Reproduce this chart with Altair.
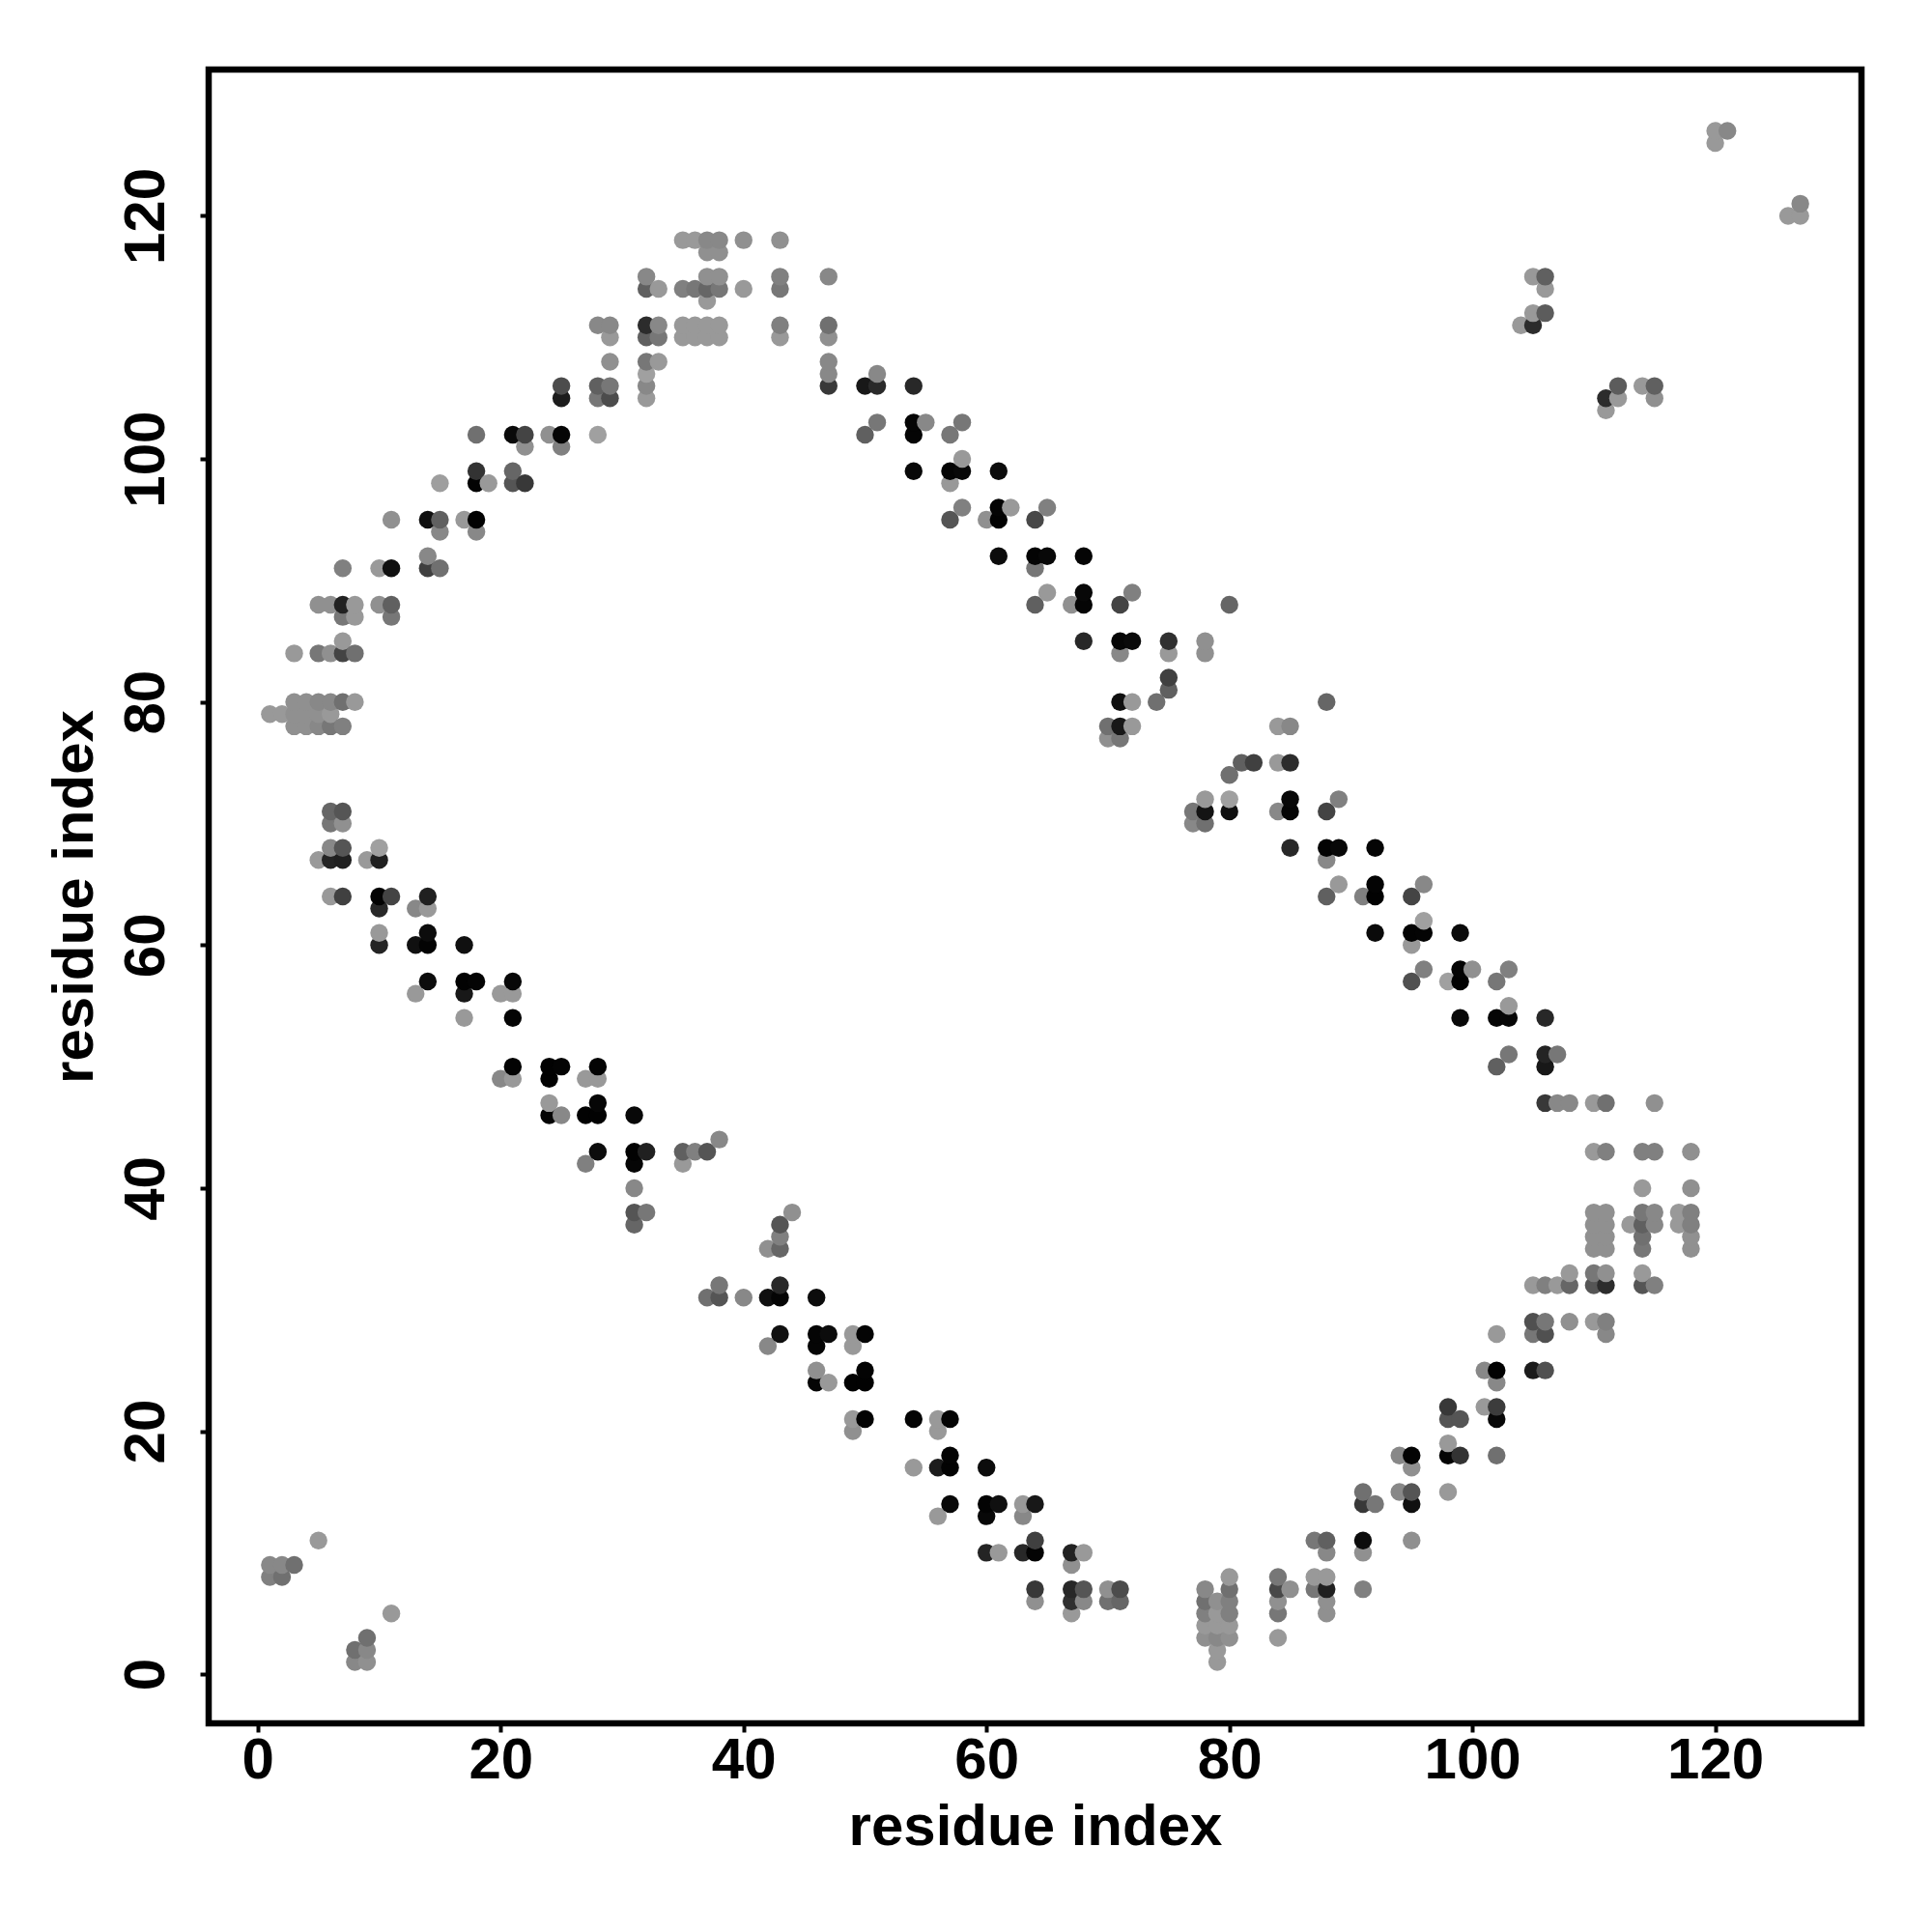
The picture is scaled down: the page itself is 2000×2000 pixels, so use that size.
import altair as alt
import pandas as pd

# each row: residue index on y -> (residue index on x, grey level)
y127 = [(120,0x99),(121,0x88)]
y126 = [(120,0x99)]
y121 = [(127,0x88)]
y120 = [(126,0x99),(127,0x99)]
y118 = [(35,0x99),(36,0x99),(37,0x88),(38,0x88),(40,0x90),(43,0x90)]
y117 = [(37,0x90),(38,0x90)]
y115 = [(32,0x88),(37,0x90),(38,0x90),(43,0x80),(47,0x88),(105,0x99),(106,0x60)]
y114 = [(32,0x60),(33,0x99),(35,0x80),(36,0x77),(37,0x66),(38,0x77),(40,0x99),(43,0x77),(106,0x99)]
y113 = [(37,0x99)]
y112 = [(105,0x99),(106,0x5c)]
y111 = [(28,0x88),(29,0x88),(32,0x2c),(33,0x88),(35,0x99),(36,0x99),(37,0x99),(38,0x99),(43,0x80),(47,0x70),(104,0x99),(105,0x2c)]
y110 = [(29,0x99),(32,0x60),(33,0x77),(35,0x99),(36,0x99),(37,0x99),(38,0x99),(43,0x99),(47,0x90)]
y108 = [(29,0x90),(32,0x77),(33,0x99),(47,0x88)]
y107 = [(32,0xa0),(47,0x88),(51,0x88)]
y106 = [(25,0x4c),(28,0x60),(29,0x77),(32,0x88),(47,0x38),(50,0x18),(51,0x2a),(54,0x28),(112,0x5c),(114,0x99),(115,0x60)]
y105 = [(25,0x1c),(28,0x77),(29,0x4c),(32,0x99),(111,0x2c),(112,0x99),(115,0x90)]
y104 = [(111,0x99)]
y103 = [(51,0x77),(54,0x05),(55,0x88),(58,0x77)]
y102 = [(18,0x70),(21,0x0a),(22,0x44),(24,0x90),(25,0x05),(28,0xa0),(50,0x60),(54,0x05),(57,0x77)]
y101 = [(22,0x90),(25,0x80)]
y100 = [(58,0x99)]
y99 = [(18,0x33),(21,0x66),(54,0x08),(57,0x04),(58,0x08),(61,0x0c)]
y98 = [(15,0x9e),(18,0x03),(19,0x99),(21,0x55),(22,0x38),(57,0x99)]
y96 = [(58,0x80),(61,0x04),(62,0x99),(65,0x80)]
y95 = [(11,0x90),(14,0x10),(15,0x60),(17,0x99),(18,0x02),(57,0x55),(60,0x90),(61,0x02),(64,0x48)]
y94 = [(15,0x88),(18,0x88)]
y92 = [(14,0x88),(61,0x0c),(64,0x04),(65,0x08),(68,0x05)]
y91 = [(7,0x80),(10,0x99),(11,0x10),(14,0x40),(15,0x70),(64,0x77)]
y89 = [(65,0x99),(68,0x08),(72,0x80)]
y88 = [(5,0x90),(6,0x90),(7,0x22),(8,0x99),(10,0x90),(11,0x60),(64,0x60),(67,0x90),(68,0x05),(71,0x44),(80,0x66)]
y87 = [(7,0x77),(8,0x99),(11,0x77)]
y85 = [(7,0x99),(68,0x28),(71,0x06),(72,0x0a),(75,0x30),(78,0x90)]
y84 = [(3,0x99),(5,0x77),(6,0x90),(7,0x44),(8,0x70),(71,0x88),(75,0x99),(78,0x90)]
y82 = [(75,0x40)]
y81 = [(75,0x60)]
y80 = [(3,0x90),(4,0x90),(5,0x88),(6,0x88),(7,0x70),(8,0x99),(71,0x10),(72,0x99),(74,0x70),(88,0x66)]
y79 = [(1,0x99),(2,0x99),(3,0x90),(4,0x90),(5,0x90),(6,0x99)]
y78 = [(3,0x90),(4,0x90),(5,0x88),(6,0x77),(7,0x80),(70,0x70),(71,0x18),(72,0x99),(84,0x99),(85,0x88)]
y77 = [(70,0x90),(71,0x77)]
y75 = [(81,0x60),(82,0x40),(84,0x99),(85,0x2c)]
y74 = [(80,0x70)]
y72 = [(78,0x99),(80,0xa0),(85,0x08),(89,0x80)]
y71 = [(6,0x66),(7,0x55),(77,0x77),(78,0x14),(80,0x10),(84,0x88),(85,0x06),(88,0x44)]
y70 = [(6,0x77),(7,0x90),(77,0x88),(78,0x70)]
y68 = [(6,0x88),(7,0x55),(10,0xa0),(85,0x28),(88,0x03),(89,0x08),(92,0x05)]
y67 = [(5,0x99),(6,0x24),(7,0x20),(9,0x99),(10,0x20),(88,0x88)]
y65 = [(89,0x99),(92,0x04),(96,0x88)]
y64 = [(6,0x99),(7,0x40),(10,0x03),(11,0x44),(14,0x20),(88,0x60),(91,0x80),(92,0x02),(95,0x44)]
y63 = [(10,0x28),(13,0x88),(14,0x99)]
y62 = [(96,0xa0)]
y61 = [(10,0x99),(14,0x0c),(92,0x0a),(95,0x03),(96,0x04),(99,0x0a)]
y60 = [(10,0x24),(13,0x10),(14,0x03),(17,0x10),(95,0x99)]
y58 = [(96,0x80),(99,0x04),(100,0x90),(103,0x80)]
y57 = [(14,0x0c),(17,0x02),(18,0x04),(21,0x08),(95,0x50),(98,0xa0),(99,0x02),(102,0x77)]
y56 = [(13,0x99),(17,0x18),(20,0x99),(21,0x99)]
y55 = [(103,0x99)]
y54 = [(17,0x99),(21,0x04),(99,0x08),(102,0x05),(103,0x06),(106,0x28)]
y51 = [(103,0x77),(106,0x24),(107,0x77)]
y50 = [(21,0x03),(24,0x02),(25,0x04),(28,0x04),(102,0x60),(106,0x18)]
y49 = [(20,0x88),(21,0x99),(24,0x02),(27,0x99),(28,0x99)]
y47 = [(24,0x99),(28,0x06),(106,0x38),(107,0x88),(108,0x88),(110,0x99),(111,0x70),(115,0x90)]
y46 = [(24,0x04),(25,0x88),(27,0x02),(28,0x02),(31,0x08)]
y44 = [(38,0x88)]
y43 = [(28,0x0c),(31,0x02),(32,0x20),(35,0x60),(36,0x80),(37,0x55),(110,0x99),(111,0x80),(114,0x80),(115,0x80),(118,0x90)]
y42 = [(27,0x80),(31,0x06),(35,0x99)]
y40 = [(31,0x88),(114,0x99),(118,0x90)]
y38 = [(31,0x55),(32,0x77),(44,0x90),(110,0x90),(111,0x90),(114,0x77),(115,0x88),(117,0x99),(118,0x80)]
y37 = [(31,0x66),(43,0x55),(110,0x90),(111,0x90),(113,0x99),(114,0x60),(115,0x88),(117,0x99),(118,0x80)]
y36 = [(43,0x80),(110,0x90),(111,0x90),(114,0x70),(118,0x90)]
y35 = [(42,0x90),(43,0x66),(110,0x90),(111,0x90),(114,0x77),(118,0x90)]
y33 = [(108,0x99),(110,0x77),(111,0x90),(114,0x99)]
y32 = [(38,0x77),(43,0x28),(105,0x99),(106,0x80),(107,0x99),(108,0x66),(110,0x55),(111,0x2c),(114,0x55),(115,0x80)]
y31 = [(37,0x70),(38,0x55),(40,0x88),(42,0x10),(43,0x05),(46,0x0c)]
y29 = [(105,0x50),(106,0x77),(108,0x90),(110,0x99),(111,0x80)]
y28 = [(43,0x10),(46,0x05),(47,0x0c),(49,0x99),(50,0x04),(102,0x99),(105,0x77),(106,0x50),(111,0x88)]
y27 = [(42,0x88),(46,0x05),(49,0x99)]
y25 = [(46,0x90),(50,0x03),(101,0x88),(102,0x02),(105,0x1c),(106,0x50)]
y24 = [(46,0x05),(47,0x99),(49,0x02),(50,0x02),(102,0x88)]
y22 = [(98,0x38),(101,0x99),(102,0x3c)]
y21 = [(49,0x99),(50,0x03),(54,0x04),(56,0x99),(57,0x04),(98,0x55),(99,0x55),(102,0x08)]
y20 = [(49,0x90),(56,0x99)]
y19 = [(98,0x99)]
y18 = [(57,0x04),(94,0x88),(95,0x04),(98,0x04),(99,0x33),(102,0x70)]
y17 = [(54,0x99),(56,0x1c),(57,0x03),(60,0x0c),(95,0x90)]
y15 = [(91,0x70),(94,0x88),(95,0x55),(98,0x99)]
y14 = [(57,0x08),(60,0x03),(61,0x10),(63,0x99),(64,0x18),(91,0x38),(92,0x77),(95,0x10)]
y13 = [(56,0x99),(60,0x08),(63,0x88)]
y11 = [(5,0x99),(64,0x40),(87,0x77),(88,0x60),(91,0x0c),(95,0x90)]
y10 = [(60,0x24),(61,0x99),(63,0x28),(64,0x04),(67,0x22),(68,0x99),(88,0x88),(91,0x90)]
y9 = [(1,0x88),(2,0x88),(3,0x70),(67,0x90)]
y8 = [(1,0x80),(2,0x70),(80,0x99),(84,0x77),(87,0x99),(88,0x99)]
y7 = [(64,0x38),(67,0x28),(68,0x55),(70,0x90),(71,0x4c),(78,0x88),(80,0x70),(84,0x48),(85,0x90),(87,0x77),(88,0x20),(91,0x80)]
y6 = [(64,0x90),(67,0x30),(68,0x88),(70,0x70),(71,0x66),(78,0x70),(79,0x90),(80,0x80),(84,0x90),(88,0x90)]
y5 = [(11,0x99),(67,0x99),(78,0x80),(79,0x99),(80,0x80),(84,0x77),(88,0x90)]
y4 = [(78,0x99),(79,0x99),(80,0x99)]
y3 = [(9,0x70),(78,0x90),(79,0x88),(80,0x90),(84,0x99)]
y2 = [(8,0x70),(9,0x88),(79,0x99)]
y1 = [(8,0x88),(9,0x90),(79,0x99)]

TICKS = [0, 20, 40, 60, 80, 100, 120]
TITLE = "residue index"
FONT = "Liberation Sans"

records = []
for name, row in list(globals().items()):
    if name[0] == "y" and name[1:].isdigit():
        for x, g in row:
            records.append({"x": x, "y": int(name[1:]), "grey": f"#{g:02x}{g:02x}{g:02x}"})
df = pd.DataFrame(records).sort_values(["x", "y"]).reset_index(drop=True)

def axis(**kw):
    return alt.Axis(values=TICKS, format="d", grid=False, domain=False, ticks=True,
                    tickColor="black", tickWidth=4, tickSize=9,
                    labelFont=FONT, labelFontWeight="bold", labelFontSize=60, labelColor="black",
                    titleFont=FONT, titleFontWeight="bold", titleFontSize=60, titleColor="black",
                    labelOverlap=False, labelFlush=False, title=TITLE, **kw)

chart = (
    alt.Chart(df)
    .mark_circle(size=340, opacity=1)
    .encode(
        x=alt.X("x:Q", scale=alt.Scale(domain=[-4.04, 132.04], nice=False, zero=False),
                axis=axis(labelPadding=0, titlePadding=10)),
        y=alt.Y("y:Q", scale=alt.Scale(domain=[-4.04, 132.04], nice=False, zero=False),
                axis=axis(labelAngle=270, labelAlign="center", labelBaseline="bottom",
                          labelPadding=25, titlePadding=13)),
        color=alt.Color("grey:N", scale=None),
    )
    .properties(
        width=1711, height=1712, background="white",
        autosize=alt.AutoSizeParams(type="none"),
        padding={"left": 208, "top": 64, "right": 60, "bottom": 200},
    )
    .configure_view(stroke="black", strokeWidth=6.5, fill="white")
)

chart.save("out.html", embed_options={"renderer": "svg", "actions": False})
